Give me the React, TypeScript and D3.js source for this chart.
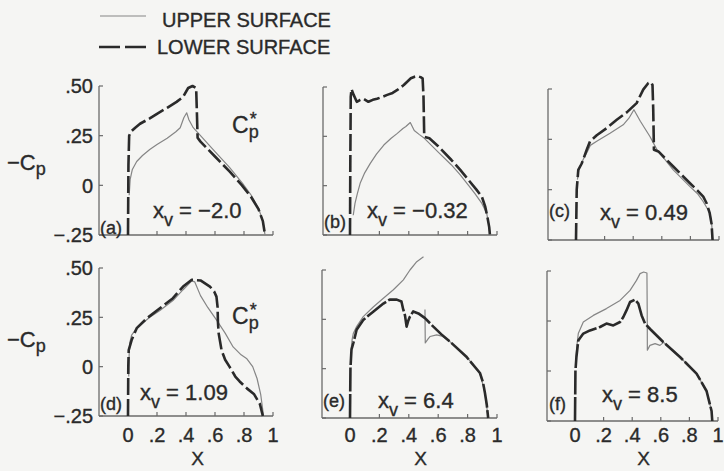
import React from "react";
import * as d3 from "d3";

type Pt = [number, number];

// Pressure distributions, -Cp versus chordwise position x, for six vortex positions xv.
const panelLetters = ["a", "b", "c", "d", "e", "f"];
const vortexPositions = ["\u22122.0", "\u22120.32", "0.49", "1.09", "6.4", "8.5"];

const lowerA: Pt[] = [[0,-0.25],[0.003,0.1],[0.008,0.25],[0.02,0.27],[0.05,0.29],[0.083,0.31],[0.15,0.337],[0.2,0.36],[0.27,0.39],[0.335,0.42],[0.38,0.445],[0.415,0.49],[0.445,0.5],[0.47,0.49],[0.475,0.37],[0.48,0.24],[0.5,0.22],[0.6,0.145],[0.7,0.07],[0.786,0.0],[0.85,-0.06],[0.9,-0.12],[0.93,-0.18],[0.945,-0.25]];
const upperA: Pt[] = [[0.008,-0.05],[0.015,0.03],[0.03,0.08],[0.06,0.12],[0.1,0.15],[0.15,0.18],[0.2,0.205],[0.27,0.237],[0.33,0.27],[0.36,0.29],[0.385,0.34],[0.405,0.365],[0.42,0.33],[0.45,0.29],[0.5,0.25],[0.6,0.17],[0.7,0.09],[0.79,0.01],[0.85,-0.05],[0.9,-0.115],[0.93,-0.18],[0.945,-0.25]];

const lowerB: Pt[] = [[0,-0.25],[0.002,0.1],[0.005,0.45],[0.01,0.49],[0.025,0.46],[0.046,0.425],[0.07,0.435],[0.092,0.44],[0.125,0.425],[0.155,0.435],[0.184,0.44],[0.22,0.45],[0.253,0.46],[0.29,0.47],[0.322,0.485],[0.366,0.51],[0.414,0.544],[0.44,0.552],[0.46,0.555],[0.48,0.55],[0.494,0.544],[0.5,0.45],[0.505,0.248],[0.54,0.24],[0.6,0.2],[0.69,0.13],[0.75,0.08],[0.805,0.03],[0.86,-0.02],[0.897,-0.056],[0.92,-0.107],[0.935,-0.16],[0.947,-0.21],[0.952,-0.25]];
const upperB: Pt[] = [[0.022,-0.15],[0.034,-0.09],[0.05,-0.04],[0.069,0.012],[0.1,0.065],[0.138,0.113],[0.18,0.16],[0.23,0.206],[0.28,0.24],[0.322,0.265],[0.36,0.29],[0.38,0.3],[0.41,0.32],[0.437,0.28],[0.47,0.26],[0.506,0.24],[0.6,0.17],[0.69,0.105],[0.75,0.055],[0.805,0.003],[0.85,-0.04],[0.897,-0.09],[0.93,-0.14],[0.945,-0.2],[0.952,-0.25]];

const lowerC: Pt[] = [[0,-0.25],[0.005,0.0],[0.016,0.098],[0.04,0.13],[0.075,0.198],[0.098,0.24],[0.145,0.27],[0.215,0.306],[0.285,0.347],[0.355,0.384],[0.424,0.43],[0.47,0.497],[0.506,0.53],[0.524,0.533],[0.535,0.52],[0.54,0.4],[0.545,0.198],[0.576,0.19],[0.68,0.115],[0.797,0.032],[0.85,-0.005],[0.89,-0.035],[0.915,-0.07],[0.935,-0.117],[0.948,-0.17],[0.955,-0.25]];
const upperC: Pt[] = [[0.01,0.05],[0.02,0.1],[0.05,0.15],[0.08,0.19],[0.1,0.22],[0.145,0.24],[0.238,0.28],[0.33,0.322],[0.37,0.355],[0.405,0.397],[0.45,0.34],[0.517,0.264],[0.565,0.2],[0.68,0.098],[0.797,0.015],[0.85,-0.02],[0.89,-0.06],[0.937,-0.116],[0.95,-0.18],[0.955,-0.25]];

const lowerD: Pt[] = [[0,-0.25],[0.002,0.0],[0.005,0.084],[0.025,0.135],[0.06,0.195],[0.13,0.245],[0.22,0.296],[0.31,0.347],[0.38,0.406],[0.44,0.44],[0.5,0.437],[0.565,0.406],[0.595,0.38],[0.61,0.355],[0.618,0.3],[0.62,0.23],[0.625,0.17],[0.645,0.084],[0.67,0.035],[0.7,0.0],[0.74,-0.05],[0.77,-0.075],[0.82,-0.11],[0.87,-0.14],[0.91,-0.19],[0.93,-0.25]];
const upperD: Pt[] = [[0.005,-0.05],[0.008,0.06],[0.012,0.12],[0.025,0.16],[0.05,0.185],[0.1,0.22],[0.15,0.25],[0.22,0.285],[0.31,0.335],[0.38,0.39],[0.42,0.42],[0.44,0.435],[0.46,0.43],[0.5,0.36],[0.55,0.3],[0.61,0.237],[0.67,0.17],[0.725,0.1],[0.78,0.06],[0.82,0.04],[0.86,0.0],[0.89,-0.06],[0.915,-0.14],[0.935,-0.25]];

const lowerE: Pt[] = [[0,-0.25],[0.003,0.0],[0.01,0.096],[0.023,0.13],[0.045,0.197],[0.09,0.247],[0.16,0.29],[0.227,0.33],[0.27,0.35],[0.318,0.35],[0.35,0.34],[0.362,0.3],[0.374,0.27],[0.385,0.213],[0.395,0.24],[0.408,0.264],[0.43,0.29],[0.465,0.28],[0.51,0.256],[0.567,0.213],[0.62,0.175],[0.68,0.137],[0.79,0.062],[0.884,-0.022],[0.905,-0.07],[0.918,-0.123],[0.93,-0.18],[0.94,-0.25]];
// NaN marks the break in the upper-surface trace at the shock
const upperE: Pt[] = [[0.008,0.1],[0.015,0.15],[0.023,0.18],[0.045,0.213],[0.09,0.264],[0.16,0.314],[0.227,0.357],[0.295,0.4],[0.363,0.45],[0.408,0.5],[0.454,0.542],[0.5,0.567],[NaN,NaN],[0.51,0.3],[0.512,0.13],[0.53,0.15],[0.544,0.163],[0.59,0.171],[0.625,0.165],[0.68,0.137],[0.79,0.062],[0.884,-0.022],[0.918,-0.123],[0.94,-0.25]];

const lowerF: Pt[] = [[0,-0.25],[0.003,0.0],[0.01,0.07],[0.023,0.153],[0.058,0.187],[0.105,0.203],[0.175,0.22],[0.22,0.237],[0.268,0.228],[0.315,0.245],[0.338,0.27],[0.36,0.303],[0.385,0.345],[0.42,0.357],[0.443,0.337],[0.466,0.278],[0.49,0.237],[0.525,0.21],[0.617,0.145],[0.734,0.07],[0.85,-0.013],[0.92,-0.1],[0.955,-0.2],[0.96,-0.25]];
const upperF: Pt[] = [[0.006,0.05],[0.012,0.12],[0.023,0.187],[0.058,0.245],[0.128,0.278],[0.22,0.312],[0.315,0.353],[0.385,0.403],[0.43,0.453],[0.455,0.487],[0.48,0.495],[0.503,0.49],[0.505,0.3],[0.506,0.104],[0.524,0.128],[0.56,0.137],[0.594,0.128],[0.62,0.143],[0.734,0.07],[0.85,-0.013],[0.92,-0.1],[0.955,-0.2],[0.96,-0.25]];

const lowerSeries = [lowerA, lowerB, lowerC, lowerD, lowerE, lowerF];
const upperSeries = [upperA, upperB, upperC, upperD, upperE, upperF];

const yTicks = [0.5, 0.25, 0, -0.25];
const yTickLabels = [".50", ".25", "0", "\u2212.25"];
const xTicks = [0, 0.2, 0.4, 0.6, 0.8, 1];
const xTickLabels = ["0", ".2", ".4", ".6", ".8", "1"];

// Frame geometry of each small plot
const frames = [
  { x0: 128, kx: 145, axisX: 99, yTop: 86, yBot: 235, lbl: [100, 234], xv: [153, 218] },
  { x0: 350, kx: 147, axisX: 323, yTop: 87, yBot: 235, lbl: [324, 228], xv: [367, 218] },
  { x0: 576, kx: 143, axisX: 548, yTop: 89, yBot: 240, lbl: [549, 217], xv: [600, 220] },
  { x0: 128, kx: 145, axisX: 99, yTop: 268, yBot: 416, lbl: [100, 410], xv: [140, 400] },
  { x0: 350, kx: 147, axisX: 322, yTop: 270, yBot: 418, lbl: [323, 407], xv: [378, 408] },
  { x0: 575, kx: 143, axisX: 547, yTop: 271, yBot: 421, lbl: [549, 410], xv: [602, 402] },
];

const FONT = "'Liberation Sans', Arial, Helvetica, sans-serif";
const INK = "#2a2a2a";
const THIN = "#858585";
const AXIS = "#6a6a6a";
// slight outline gives the lettering the weight of the printed type
const textStyle = { fill: INK, stroke: INK, strokeWidth: 0.35, fontFamily: FONT };

function Panel({ i }: { i: number }) {
  const f = frames[i];
  const xs = d3.scaleLinear().domain([0, 1]).range([f.x0, f.x0 + f.kx]);
  const ys = d3.scaleLinear().domain([-0.25, 0.5]).range([f.yBot, f.yTop]);
  const line = d3
    .line<Pt>()
    .defined((p) => !isNaN(p[0]))
    .x((p) => xs(p[0]))
    .y((p) => ys(p[1]));
  const leftCol = i === 0 || i === 3;
  const bottomRow = i >= 3;
  const dash = i >= 4 ? "24 2.5" : "17 4";
  return (
    <g>
      {/* axes */}
      <line x1={f.axisX} x2={f.axisX} y1={ys(0.5)} y2={ys(-0.25)} stroke={AXIS} strokeWidth={1.3} />
      <line x1={f.axisX} x2={xs(1)} y1={ys(-0.25)} y2={ys(-0.25)} stroke={AXIS} strokeWidth={1.3} />
      {yTicks.map((t) => (
        <line key={"yt" + t} x1={f.axisX} x2={f.axisX + 4} y1={ys(t)} y2={ys(t)} stroke={AXIS} strokeWidth={1.2} />
      ))}
      {xTicks.map((t) => (
        <line key={"xt" + t} x1={xs(t)} x2={xs(t)} y1={ys(-0.25)} y2={ys(-0.25) - 4} stroke={AXIS} strokeWidth={1.2} />
      ))}
      {leftCol &&
        yTicks.map((t, k) => (
          <text key={"yl" + t} x={f.axisX - 6} y={ys(t)} dy="0.36em" textAnchor="end" fontSize={20} {...textStyle}>
            {yTickLabels[k]}
          </text>
        ))}
      {bottomRow &&
        xTicks.map((t, k) => (
          <text key={"xl" + t} x={xs(t)} y={442} textAnchor="middle" fontSize={20} {...textStyle}>
            {xTickLabels[k]}
          </text>
        ))}
      {bottomRow && (
        <text x={xs(0.48)} y={465} textAnchor="middle" fontSize={19} {...textStyle}>
          X
        </text>
      )}
      {/* upper surface, thin solid */}
      <path d={line(upperSeries[i]) || ""} fill="none" stroke={THIN} strokeWidth={1.2} strokeLinejoin="round" />
      {/* lower surface, heavy dashed */}
      <path d={line(lowerSeries[i]) || ""} fill="none" stroke={INK} strokeWidth={2.6} strokeDasharray={dash} strokeLinejoin="round" />
      <text x={f.lbl[0]} y={f.lbl[1]} fontSize={18} {...textStyle}>
        ({panelLetters[i]})
      </text>
      <text x={f.xv[0]} y={f.xv[1]} fontSize={22} {...textStyle}>
        x
        <tspan fontSize={18} dy={8}>v</tspan>
        <tspan dy={-8}>{" = " + vortexPositions[i]}</tspan>
      </text>
    </g>
  );
}

function CpLabel({ y }: { y: number }) {
  return (
    <text x={7} y={y} fontSize={22} {...textStyle}>
      {"\u2212C"}
      <tspan fontSize={18} dy={5}>p</tspan>
    </text>
  );
}

function CpStar({ y }: { y: number }) {
  return (
    <text x={232} y={y} fontSize={23} {...textStyle}>
      C
      <tspan fontSize={18} dy={5}>p</tspan>
      <tspan fontSize={18} dx={-9} dy={-13}>*</tspan>
    </text>
  );
}

export default function App() {
  return (
    <svg width={724} height={471} viewBox="0 0 724 471" style={{ position: "absolute", left: 0, top: 0, display: "block" }}>
      <rect width={724} height={471} fill="#f5f5f3" />
      {/* legend */}
      <line x1={100} x2={146} y1={16} y2={16} stroke={THIN} strokeWidth={1.2} />
      <text x={162} y={27} fontSize={20} {...textStyle}>UPPER SURFACE</text>
      <line x1={99} x2={147} y1={47} y2={47} stroke={INK} strokeWidth={2.6} strokeDasharray="21 5" />
      <text x={157} y={54} fontSize={20} {...textStyle}>LOWER SURFACE</text>

      <CpLabel y={170} />
      <CpLabel y={347} />
      <CpStar y={133} />
      <CpStar y={324} />

      {frames.map((_, i) => (
        <Panel key={i} i={i} />
      ))}
    </svg>
  );
}
